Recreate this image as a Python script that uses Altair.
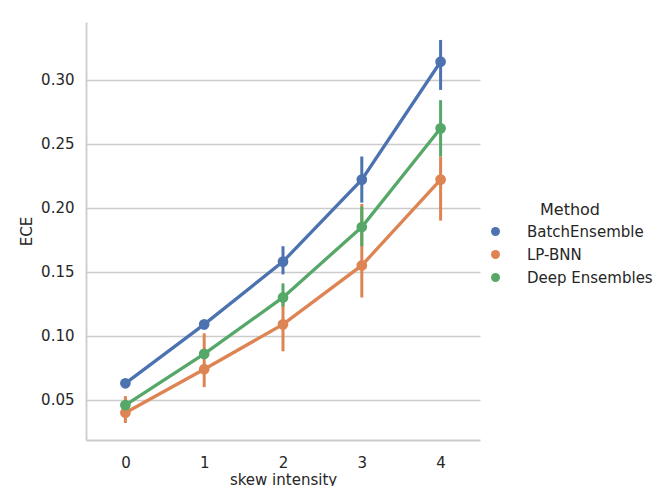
import altair as alt
import pandas as pd

skew = [0, 1, 2, 3, 4]
methods = ["BatchEnsemble", "LP-BNN", "Deep Ensembles"]
colors = ["#4c72b0", "#dd8452", "#55a868"]

be_mean = [0.063, 0.109, 0.158, 0.222, 0.314]
be_lo = [0.060, 0.105, 0.148, 0.204, 0.292]
be_hi = [0.066, 0.112, 0.170, 0.240, 0.331]

lp_mean = [0.040, 0.074, 0.109, 0.155, 0.222]
lp_lo = [0.032, 0.060, 0.088, 0.130, 0.190]
lp_hi = [0.053, 0.102, 0.130, 0.203, 0.240]

de_mean = [0.046, 0.086, 0.130, 0.185, 0.262]
de_lo = [0.043, 0.083, 0.123, 0.170, 0.240]
de_hi = [0.049, 0.089, 0.141, 0.201, 0.284]

rows = []
for m, mean, lo, hi in zip(methods, [be_mean, lp_mean, de_mean],
                           [be_lo, lp_lo, de_lo], [be_hi, lp_hi, de_hi]):
    for s, v, l, h in zip(skew, mean, lo, hi):
        rows.append({"skew": s, "Method": m, "ECE": v, "lo": l, "hi": h})
df = pd.DataFrame(rows)

font = "DejaVu Sans"
x = alt.X("skew:Q", title="skew intensity",
          scale=alt.Scale(domain=[-0.5, 4.5], nice=False, zero=False),
          axis=alt.Axis(values=skew, format="d", grid=False, ticks=False,
                        labelPadding=15, titlePadding=2))
y = alt.Y("ECE:Q", title="ECE",
          scale=alt.Scale(domain=[0.01875, 0.345], nice=False, zero=False),
          axis=alt.Axis(values=[0.05, 0.10, 0.15, 0.20, 0.25, 0.30], format=".2f",
                        ticks=False, labelPadding=12, titlePadding=6))
color = alt.Color("Method:N", sort=methods,
                  scale=alt.Scale(domain=methods, range=colors),
                  legend=alt.Legend(orient="none", legendX=402, legendY=180,
                                    title="Method", titleAnchor="middle",
                                    symbolType="circle", symbolSize=80,
                                    symbolStrokeWidth=0, rowPadding=7,
                                    titlePadding=6, labelOffset=24))

base = alt.Chart(df)
rules = base.mark_rule(strokeWidth=3).encode(
    x=x, y="lo:Q", y2="hi:Q", color=color)
lines = base.mark_line(strokeWidth=3.3).encode(
    x=x, y=y, color=color, detail="Method:N")
points = base.mark_circle(size=115, opacity=1).encode(
    x=x, y=y, color=color)

chart = alt.layer(rules, lines, points).properties(
    width=394, height=418,
    autosize=alt.AutoSizeParams(type="none"),
    padding={"left": 78, "top": 14, "right": 177, "bottom": 46},
    background="white",
).configure_view(stroke=None).configure_axis(
    labelFont=font, titleFont=font, labelFontSize=15, titleFontSize=15,
    labelColor="#262626", titleColor="#262626", titleFontWeight="normal",
    gridColor="#cccccc", gridWidth=1.3, domainColor="#cccccc", domainWidth=1.8,
).configure_legend(
    labelFont=font, titleFont=font, labelFontSize=15, titleFontSize=16,
    labelColor="#262626", titleColor="#262626", titleFontWeight="normal",
)

chart.save("out.html", embed_options={"renderer": "svg", "actions": False})
